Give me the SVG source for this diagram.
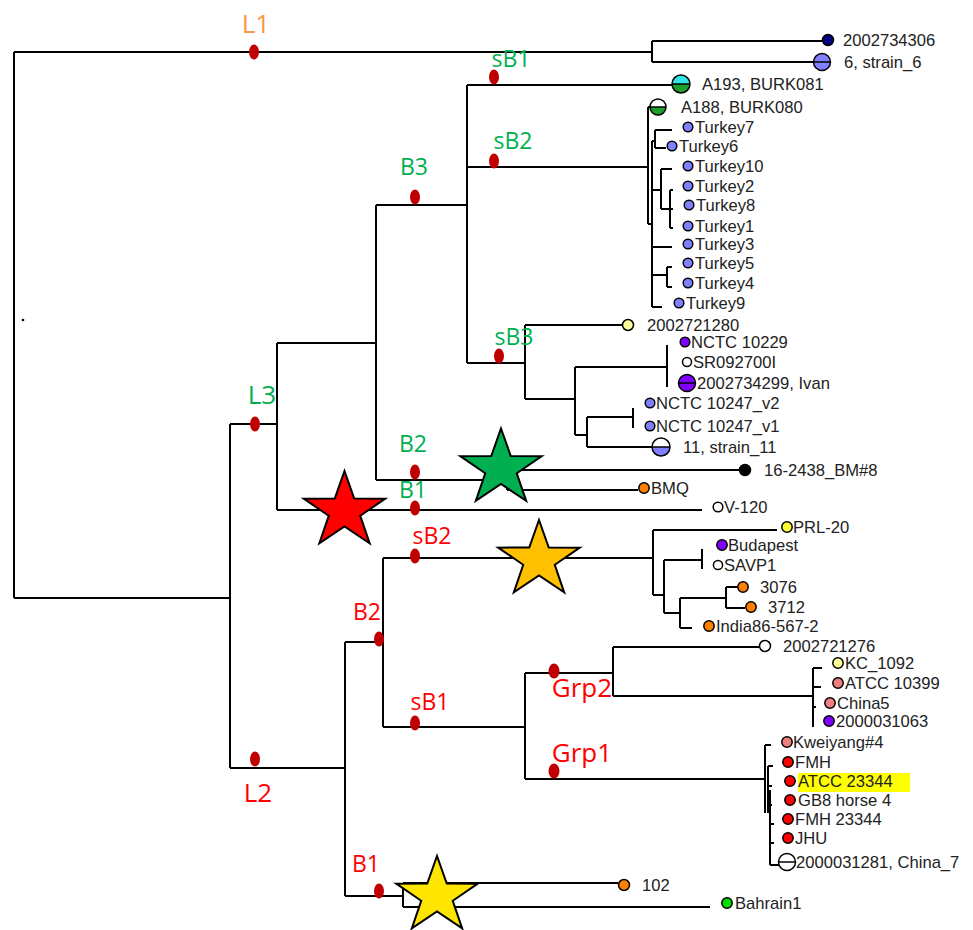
<svg xmlns="http://www.w3.org/2000/svg" xmlns:xlink="http://www.w3.org/1999/xlink" width="973" height="930" viewBox="0 0 973 930">
<style>
.ln{stroke:#000;stroke-width:2;fill:none}
.lf{font-family:"Liberation Sans",Arial,sans-serif;font-size:16.6px;fill:#222}
.cl{font-family:"Open Sans",sans-serif;text-anchor:middle}
.big{font-size:26px}
.mid{font-size:23px}
.g{fill:#00b050}
.r{fill:#ff0000}
.o{fill:#f79646}
.bd{fill:#c00000}
.mk{stroke:#000;stroke-width:1.5}
.st{stroke:#000;stroke-width:2}
</style>
<defs>
<path id="star" d="M0,-40 L9.75,-12.54 L40.71,-12.36 L15.77,4.79 L25.16,32.36 L0,15.5 L-25.16,32.36 L-15.77,4.79 L-40.71,-12.36 L-9.75,-12.54 Z"/>
</defs>
<rect width="973" height="930" fill="#fff"/>

<g id="connectors" class="ln">
<path d="M14,52 V598 M14,52 H652 M652,41 V62 M652,41 H822 M652,62 H814"/>
<path d="M14,598 H230 M230,424 V768 M230,424 H277 M277,343 V510 M277,343 H376 M376,205 V480 M376,205 H467"/>
<path d="M467,85 V363 M467,85 H672 M467,167 H648 M648,107 V224 M648,107 H651 M648,224 H652"/>
<path d="M652,141 V307 M652,141 H655 M655,130 V148 M655,130 H672 M655,148 H666"/>
<path d="M652,190 H661 M661,169 V209 M661,169 H672 M661,209 H673 M670,190 V228 M670,190 H673 M670,228 H673"/>
<path d="M652,247 H672 M652,275 H667 M667,267 V287 M667,267 H672 M667,287 H672 M652,307 H662"/>
<path d="M467,363 H525 M525,325 V399 M525,325 H622 M525,399 H575 M575,367 V435 M575,367 H667 M667,345 V387"/>
<path d="M575,435 H587 M587,417 V447 M587,417 H633 M633,408 V428 M587,447 H652"/>
<path d="M376,480 H507 M507,470 V490 M507,470 H739 M507,490 H638 M277,510 H702"/>
<path d="M230,768 H345 M345,642 V896 M345,642 H383 M383,558 V727 M383,558 H653"/>
<path d="M653,530 V595 M653,530 H777 M653,595 H664 M664,560 V613 M664,560 H702 M702,549 V569 M664,613 H680 M680,598 V628 M680,598 H726 M726,587 V608 M726,587 H738 M726,608 H745 M680,628 H692"/>
<path d="M383,727 H525 M525,673 V779 M525,673 H613 M613,647 V696 M613,647 H760 M613,696 H813 M813,668 V727 M813,668 H822 M813,687 H821 M813,707 H816"/>
<path d="M525,779 H765 M765,745 V813 M768,766 V813 M770,790 V865 M765,745 H771 M768,766 H773 M768,786 H772 M768,805 H772 M770,824 H774 M770,843 H774 M770,865 H779"/>
<path d="M345,896 H403 M403,883 V907 M403,883 H618 M403,907 H710"/>
</g>

<g id="stars" class="st">
<use xlink:href="#star" href="#star" x="344.5" y="511" fill="#ff0000"/>
<use xlink:href="#star" href="#star" x="501" y="468.5" fill="#00b050"/>
<use xlink:href="#star" href="#star" x="539" y="560" fill="#ffc000"/>
<use xlink:href="#star" href="#star" x="437" y="896" fill="#ffe600"/>
</g>

<g id="clade-L1"><ellipse class="bd" cx="254" cy="52" rx="5" ry="7.5"/><text class="cl big o" x="256" y="33">L1</text></g>
<g id="clade-sB1-g"><ellipse class="bd" cx="494" cy="77" rx="5" ry="7.5"/><text class="cl mid g" x="511" y="67">sB1</text></g>
<g id="clade-sB2-g"><ellipse class="bd" cx="494" cy="161" rx="5" ry="7.5"/><text class="cl mid g" x="513" y="149">sB2</text></g>
<g id="clade-B3"><ellipse class="bd" cx="415" cy="197" rx="5" ry="7.5"/><text class="cl mid g" x="414" y="175">B3</text></g>
<g id="clade-sB3"><ellipse class="bd" cx="499" cy="356" rx="5" ry="7.5"/><text class="cl mid g" x="514" y="345">sB3</text></g>
<g id="clade-L3"><ellipse class="bd" cx="255" cy="424" rx="5" ry="7.5"/><text class="cl big g" x="262" y="404">L3</text></g>
<g id="clade-B2-g"><ellipse class="bd" cx="415" cy="472" rx="5" ry="7.5"/><text class="cl mid g" x="413" y="452">B2</text></g>
<g id="clade-B1-g"><ellipse class="bd" cx="415" cy="508" rx="5" ry="7.5"/><text class="cl mid g" x="413" y="498">B1</text></g>
<g id="clade-sB2-r"><ellipse class="bd" cx="415" cy="556" rx="5" ry="7.5"/><text class="cl mid r" x="432" y="544">sB2</text></g>
<g id="clade-B2-r"><ellipse class="bd" cx="379" cy="639" rx="5" ry="7.5"/><text class="cl mid r" x="367" y="620">B2</text></g>
<g id="clade-sB1-r"><ellipse class="bd" cx="415" cy="723" rx="5" ry="7.5"/><text class="cl mid r" x="430" y="710">sB1</text></g>
<g id="clade-Grp2"><ellipse class="bd" cx="554" cy="671" rx="5.5" ry="7.5"/><text class="cl big r" x="582" y="697">Grp2</text></g>
<g id="clade-Grp1"><ellipse class="bd" cx="554" cy="771" rx="5.5" ry="7.5"/><text class="cl big r" x="582" y="762">Grp1</text></g>
<g id="clade-L2"><ellipse class="bd" cx="255" cy="759" rx="5" ry="7.5"/><text class="cl big r" x="258" y="802">L2</text></g>
<g id="clade-B1-r"><ellipse class="bd" cx="379" cy="891" rx="5" ry="7.5"/><text class="cl mid r" x="366" y="872">B1</text></g>

<g id="root-dot"><circle cx="23" cy="320" r="1.3" fill="#000"/></g>

<g id="leaf-2002734306"><circle class="mk" cx="828" cy="40" r="5.5" fill="#000080"/><text class="lf" x="843" y="46">2002734306</text></g>
<g id="leaf-strain6"><circle class="mk" cx="822" cy="62" r="8.5" fill="#8080ff"/><path class="mk" d="M813.5,62 H830.5"/><text class="lf" x="844" y="68">6, strain_6</text></g>
<g id="leaf-A193"><path d="M672,84 A9,9 0 0 1 690,84 Z" fill="#33e6e6"/><path d="M672,84 A9,9 0 0 0 690,84 Z" fill="#1e9e2a"/><circle class="mk" cx="681" cy="84" r="9" fill="none"/><path class="mk" d="M672,84 H690"/><text class="lf" x="702" y="90">A193, BURK081</text></g>
<g id="leaf-A188"><path d="M650,107 A8,8 0 0 1 666,107 Z" fill="#fff"/><path d="M650,107 A8,8 0 0 0 666,107 Z" fill="#1e9e2a"/><circle class="mk" cx="658" cy="107" r="8" fill="none"/><path class="mk" d="M650,107 H666"/><text class="lf" x="681" y="113">A188, BURK080</text></g>
<g id="leaf-Turkey7"><circle class="mk" cx="688" cy="127" r="4.8" fill="#8080ff"/><text class="lf" x="695" y="133">Turkey7</text></g>
<g id="leaf-Turkey6"><circle class="mk" cx="672" cy="146" r="4.8" fill="#8080ff"/><text class="lf" x="679" y="152">Turkey6</text></g>
<g id="leaf-Turkey10"><circle class="mk" cx="688" cy="166" r="4.8" fill="#8080ff"/><text class="lf" x="695" y="172">Turkey10</text></g>
<g id="leaf-Turkey2"><circle class="mk" cx="688" cy="186" r="4.8" fill="#8080ff"/><text class="lf" x="695" y="192">Turkey2</text></g>
<g id="leaf-Turkey8"><circle class="mk" cx="689" cy="205" r="4.8" fill="#8080ff"/><text class="lf" x="696" y="211">Turkey8</text></g>
<g id="leaf-Turkey1"><circle class="mk" cx="688" cy="226" r="4.8" fill="#8080ff"/><text class="lf" x="695" y="232">Turkey1</text></g>
<g id="leaf-Turkey3"><circle class="mk" cx="688" cy="244" r="4.8" fill="#8080ff"/><text class="lf" x="695" y="250">Turkey3</text></g>
<g id="leaf-Turkey5"><circle class="mk" cx="688" cy="263" r="4.8" fill="#8080ff"/><text class="lf" x="695" y="269">Turkey5</text></g>
<g id="leaf-Turkey4"><circle class="mk" cx="688" cy="283" r="4.8" fill="#8080ff"/><text class="lf" x="695" y="289">Turkey4</text></g>
<g id="leaf-Turkey9"><circle class="mk" cx="679" cy="303" r="4.8" fill="#8080ff"/><text class="lf" x="686" y="309">Turkey9</text></g>
<g id="leaf-2002721280"><circle class="mk" cx="628" cy="325" r="5.5" fill="#ffff99"/><text class="lf" x="647" y="331">2002721280</text></g>
<g id="leaf-NCTC10229"><circle class="mk" cx="685" cy="342" r="4.8" fill="#7f00ff"/><text class="lf" x="691" y="348">NCTC 10229</text></g>
<g id="leaf-SR092700I"><circle class="mk" cx="687" cy="362" r="4.5" fill="#fff"/><text class="lf" x="693" y="368">SR092700I</text></g>
<g id="leaf-Ivan"><circle class="mk" cx="687" cy="383" r="8.5" fill="#7f00ff"/><path class="mk" d="M678.5,383 H695.5"/><text class="lf" x="697" y="389">2002734299, Ivan</text></g>
<g id="leaf-NCTC10247v2"><circle class="mk" cx="650" cy="403" r="4.8" fill="#8080ff"/><text class="lf" x="656" y="409">NCTC 10247_v2</text></g>
<g id="leaf-NCTC10247v1"><circle class="mk" cx="650" cy="426" r="4.8" fill="#8080ff"/><text class="lf" x="656" y="432">NCTC 10247_v1</text></g>
<g id="leaf-strain11"><path d="M652,447 A9,9 0 0 1 670,447 Z" fill="#fff"/><path d="M652,447 A9,9 0 0 0 670,447 Z" fill="#8080ff"/><circle class="mk" cx="661" cy="447" r="9" fill="none"/><path class="mk" d="M652,447 H670"/><text class="lf" x="683" y="453">11, strain_11</text></g>
<g id="leaf-16-2438"><circle class="mk" cx="745" cy="470" r="5.5" fill="#000"/><text class="lf" x="764" y="476">16-2438_BM#8</text></g>
<g id="leaf-BMQ"><circle class="mk" cx="644" cy="488" r="5.2" fill="#ff8000"/><text class="lf" x="651" y="494">BMQ</text></g>
<g id="leaf-V-120"><circle class="mk" cx="718" cy="507" r="4.8" fill="#fff"/><text class="lf" x="724" y="513">V-120</text></g>
<g id="leaf-PRL-20"><circle class="mk" cx="787" cy="527" r="5.2" fill="#ffff33"/><text class="lf" x="793" y="533">PRL-20</text></g>
<g id="leaf-Budapest"><circle class="mk" cx="722" cy="545" r="5.2" fill="#7f00ff"/><text class="lf" x="728" y="551">Budapest</text></g>
<g id="leaf-SAVP1"><circle class="mk" cx="718" cy="565" r="4.6" fill="#fff"/><text class="lf" x="724" y="571">SAVP1</text></g>
<g id="leaf-3076"><circle class="mk" cx="743" cy="587" r="5.2" fill="#ff8000"/><text class="lf" x="760" y="593">3076</text></g>
<g id="leaf-3712"><circle class="mk" cx="751" cy="607" r="5.2" fill="#ff8000"/><text class="lf" x="768" y="613">3712</text></g>
<g id="leaf-India"><circle class="mk" cx="709" cy="626" r="5.2" fill="#ff8000"/><text class="lf" x="716" y="632">India86-567-2</text></g>
<g id="leaf-2002721276"><circle class="mk" cx="765" cy="646" r="5.5" fill="#fff"/><text class="lf" x="783" y="652">2002721276</text></g>
<g id="leaf-KC_1092"><circle class="mk" cx="838" cy="663" r="5.2" fill="#ffff99"/><text class="lf" x="845" y="669">KC_1092</text></g>
<g id="leaf-ATCC10399"><circle class="mk" cx="838" cy="683" r="5.2" fill="#f08080"/><text class="lf" x="845" y="689">ATCC 10399</text></g>
<g id="leaf-China5"><circle class="mk" cx="830" cy="703" r="5.2" fill="#f08080"/><text class="lf" x="837" y="709">China5</text></g>
<g id="leaf-2000031063"><circle class="mk" cx="829" cy="721" r="5.2" fill="#7f00ff"/><text class="lf" x="836" y="727">2000031063</text></g>
<g id="leaf-Kweiyang4"><circle class="mk" cx="787" cy="742" r="5.2" fill="#f08080"/><text class="lf" x="793" y="748">Kweiyang#4</text></g>
<g id="leaf-FMH"><circle class="mk" cx="788" cy="762" r="5.2" fill="#ff0000"/><text class="lf" x="795" y="768">FMH</text></g>
<g id="leaf-ATCC23344"><rect x="798" y="773" width="112" height="19" fill="#ffff00"/><circle class="mk" cx="790" cy="781" r="5.2" fill="#ff0000"/><text class="lf" x="798" y="787">ATCC 23344</text></g>
<g id="leaf-GB8"><circle class="mk" cx="790" cy="800" r="5.2" fill="#ff0000"/><text class="lf" x="798" y="806">GB8 horse 4</text></g>
<g id="leaf-FMH23344"><circle class="mk" cx="788" cy="819" r="5.2" fill="#ff0000"/><text class="lf" x="795" y="825">FMH 23344</text></g>
<g id="leaf-JHU"><circle class="mk" cx="788" cy="838" r="5.2" fill="#ff0000"/><text class="lf" x="795" y="844">JHU</text></g>
<g id="leaf-China7"><circle class="mk" cx="787" cy="862" r="8.5" fill="#fff"/><path class="mk" d="M778.5,862 H795.5"/><text class="lf" x="796" y="868">2000031281, China_7</text></g>
<g id="leaf-102"><circle class="mk" cx="624" cy="885" r="5.5" fill="#ff8000"/><text class="lf" x="642" y="891">102</text></g>
<g id="leaf-Bahrain1"><circle class="mk" cx="727" cy="903" r="5.2" fill="#00dd00"/><text class="lf" x="735" y="909">Bahrain1</text></g>
</svg>
